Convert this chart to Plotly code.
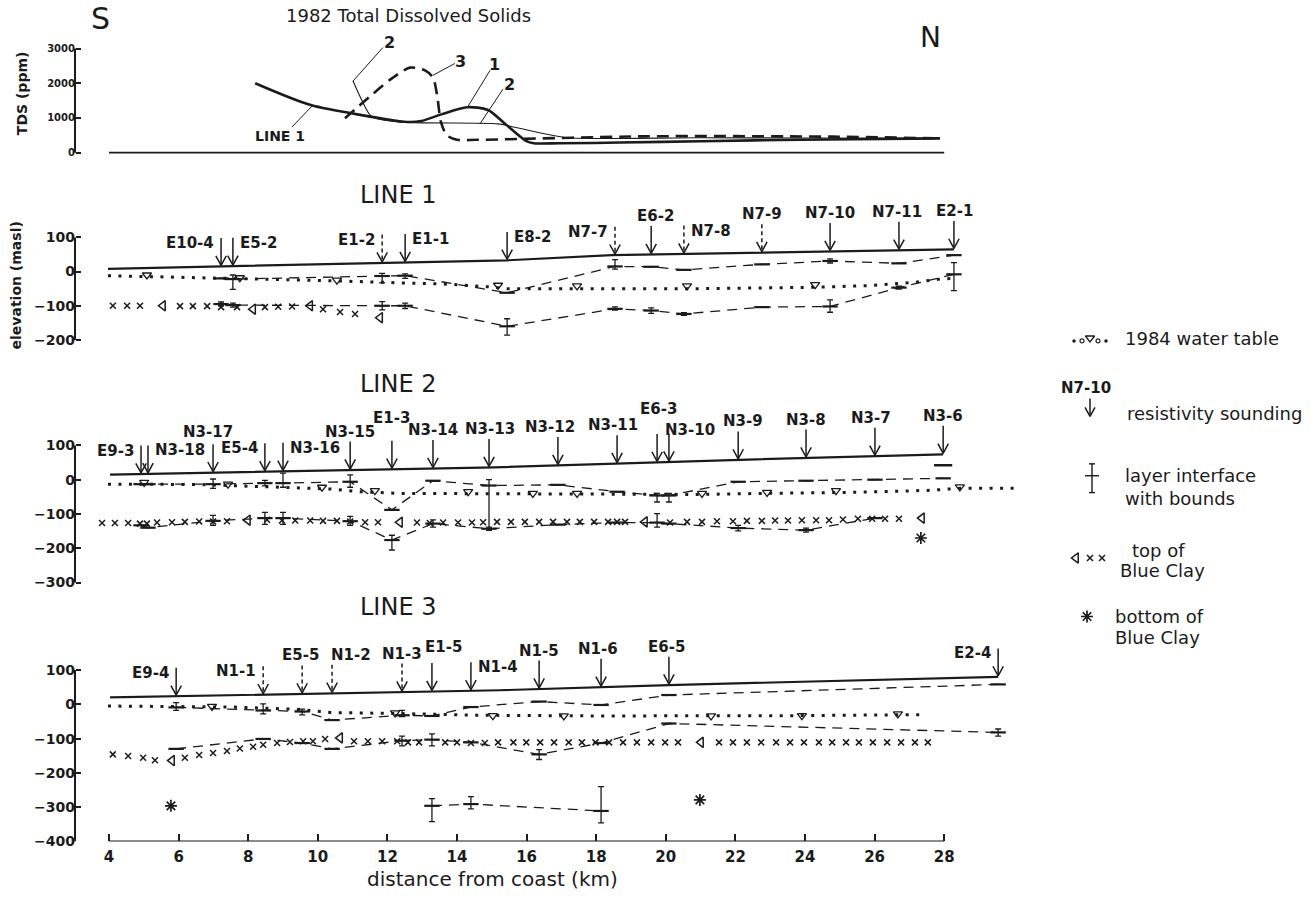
import numpy as np
import plotly.graph_objects as go

W, H = 1315, 902
INK = "#1b1b1b"
FONT = "DejaVu Sans"

# ------------------------------------------------------------------ ticks
X_TICKS = [4, 6, 8, 10, 12, 14, 16, 18, 20, 22, 24, 26, 28]
TDS_TICKS = [0, 1000, 2000, 3000]
L1_TICKS = [100, 0, -100, -200]
L2_TICKS = [100, 0, -100, -200, -300]
L3_TICKS = [100, 0, -100, -200, -300, -400]

# ------------------------------------------------------------------ TDS (ppm) 1982
TDS1_KM = [8.20, 9.80, 11.39, 12.48, 12.97, 13.57, 14.29, 14.89, 15.38, 15.98, 16.21, 16.96, 18.68, 20.98, 23.86, 27.88]
TDS1 = [2000, 1370, 1060, 890, 910, 1110, 1310, 1230, 830, 340, 270, 270, 290, 330, 370, 410]
TDS2_KM = [11.01, 11.27, 11.56, 12.48, 15.18, 15.67, 16.73, 17.30, 20.98, 23.86, 27.88]
TDS2 = [2070, 1500, 1030, 880, 830, 730, 500, 420, 430, 420, 410]
TDS3_KM = [10.78, 12.13, 12.65, 13.08, 13.31, 13.43, 13.54, 13.71, 14.00, 14.60, 19.43, 24.80, 27.88]
TDS3 = [990, 2140, 2450, 2370, 2160, 1640, 880, 500, 370, 370, 470, 460, 410]

# ------------------------------------------------------------------ LINE 1
L1_GROUND_KM = [3.97, 15.44, 18.45, 24.72, 28.28]
L1_GROUND = [8, 33, 48, 59, 65]
L1_NAMES = ["E10-4", "E5-2", "E1-2", "E1-1", "E8-2", "N7-7", "E6-2", "N7-8", "N7-9", "N7-10", "N7-11", "E2-1"]
L1_KM = [7.22, 7.56, 11.85, 12.51, 15.44, 18.54, 19.58, 20.52, 22.76, 24.72, 26.70, 28.28]
L1_DASHED = [0, 0, 1, 0, 0, 1, 0, 1, 1, 0, 0, 0]
L1_UP = [-20, -22, -13, -12, -62, 15, 14, 5, 21, 31, 24, 48]
L1_UP_EP = [0, 12, 8, 5, 0, 20, 0, 0, 0, 6, 0, 0]
L1_UP_EM = [0, 30, 20, 8, 0, 8, 0, 0, 0, 6, 0, 0]
L1_LO = [-95, -98, -100, -100, -160, -109, -114, -124, -104, -102, -47, -8]
L1_LO_EP = [6, 6, 12, 8, 22, 6, 8, 4, 0, 19, 4, 34]
L1_LO_EM = [6, 6, 12, 8, 26, 4, 8, 4, 0, 17, 4, 48]
L1_WT_KM = [3.97, 7.56, 10.44, 12.36, 13.80, 14.95, 15.44, 20.98, 24.23, 25.87, 27.10, 27.88, 28.31]
L1_WT = [-12, -20, -27, -33, -37, -45, -50, -50, -46, -41, -32, -22, -20]
L1_TRI_KM = [5.09, 7.76, 10.55, 15.18, 17.45, 20.61, 24.29]
L1_TRI = [-10, -18, -25, -40, -42, -42, -38]
L1_CLAYX_KM = [4.11, 4.52, 4.89, 6.04, 6.41, 6.82, 7.22, 7.68, 8.48, 8.86, 9.26, 10.15, 10.64, 11.07]
L1_CLAYX = [-100, -100, -100, -101, -101, -101, -104, -104, -104, -103, -102, -110, -118, -124]
L1_CLAYT_KM = [5.55, 8.14, 9.78, 11.79]
L1_CLAYT = [-100, -110, -100, -135]

# ------------------------------------------------------------------ LINE 2
L2_GROUND_KM = [4.03, 15.09, 22.13, 27.97]
L2_GROUND = [15, 36, 58, 74]
L2_NAMES = ["E9-3", "N3-18", "N3-17", "E5-4", "N3-16", "N3-15", "E1-3", "N3-14", "N3-13",
            "N3-12", "N3-11", "E6-3", "N3-10", "N3-9", "N3-8", "N3-7", "N3-6"]
L2_KM = [4.92, 5.12, 6.99, 8.48, 9.00, 10.93, 12.13, 13.31, 14.92, 16.90, 18.60, 19.75, 20.09, 22.08, 24.03, 26.01, 27.97]
L2_DASHED = [0] * 17
L2_UP = [-13, -13, -13, -10, -10, -6, -88, -3, -17, -15, -35, -46, -46, -6, -3, 0, 4]
L2_UP_EP = [0, 0, 15, 8, 29, 20, 0, 0, 17, 0, 0, 6, 6, 0, 0, 0, 0]
L2_UP_EM = [0, 0, 12, 8, 12, 16, 0, 0, 130, 0, 0, 19, 19, 0, 0, 0, 0]
L2_LO_KM = [4.92, 5.12, 6.99, 8.48, 9.00, 10.93, 12.13, 13.31, 14.92, 16.90, 18.60, 19.75, 20.09, 22.08, 24.03, 26.01]
L2_LO = [-133, -140, -120, -112, -112, -121, -176, -128, -143, -131, -125, -125, -128, -141, -147, -112]
L2_LO_EP = [0, 0, 16, 17, 17, 14, 14, 11, 5, 0, 0, 26, 0, 8, 6, 0]
L2_LO_EM = [0, 0, 13, 18, 18, 12, 29, 10, 5, 0, 0, 13, 0, 8, 6, 0]
L2_EXTRA_KM = [27.97]
L2_EXTRA = [42]
L2_WT_KM = [3.97, 6.62, 8.34, 10.35, 11.21, 12.36, 15.24, 19.55, 20.98, 22.71, 25.29, 27.59, 28.45, 30.04]
L2_WT = [-13, -14, -20, -27, -35, -40, -41, -43, -43, -40, -37, -31, -25, -25]
L2_TRI_KM = [5.01, 7.42, 10.12, 11.64, 14.32, 16.18, 17.45, 21.04, 22.91, 24.89, 28.45]
L2_TRI = [-8, -13, -22, -32, -35, -40, -40, -40, -37, -32, -21]
L2_CLAYX_KM = [3.80, 4.17, 4.55, 4.89, 5.09, 5.38, 5.81, 6.18, 6.59, 6.99, 7.39,
               8.54, 8.97, 9.35, 9.78, 10.15, 10.55, 10.93, 11.36, 11.73,
               12.85, 13.22, 13.60, 14.03, 14.43, 14.75,
               15.15, 15.55, 15.95, 16.36, 16.76, 17.16, 17.53, 17.94, 18.34, 18.60, 18.83,
               20.12, 20.61, 21.04, 21.47, 21.93, 22.33, 22.76, 23.14, 23.51, 23.91, 24.32,
               24.69, 25.09, 25.52, 25.93, 26.30, 26.70]
L2_CLAYX = [-126, -126, -126, -128, -128, -125, -124, -123, -122, -122, -121,
            -117, -119, -119, -119, -120, -120, -122, -124, -124,
            -125, -126, -125, -125, -125, -124,
            -123, -123, -123, -123, -123, -123, -123, -123, -123, -123, -123,
            -125, -123, -123, -121, -121, -120, -120, -119, -119, -118, -118,
            -118, -116, -114, -114, -114, -114]
L2_CLAYT_KM = [7.99, 12.36, 19.40, 27.36]
L2_CLAYT = [-118, -124, -123, -112]
L2_STAR_KM = [27.33]
L2_STAR = [-170]

# ------------------------------------------------------------------ LINE 3
L3_GROUND_KM = [4.03, 15.24, 20.09, 29.55]
L3_GROUND = [20, 41, 56, 80]
L3_NAMES = ["E9-4", "N1-1", "E5-5", "N1-2", "N1-3", "E1-5", "N1-4", "N1-5", "N1-6", "E6-5", "E2-4"]
L3_KM = [5.93, 8.43, 9.55, 10.41, 12.42, 13.28, 14.40, 16.36, 18.14, 20.09, 29.55]
L3_DASHED = [0, 1, 1, 1, 1, 0, 0, 0, 0, 0, 0]
L3_UP = [-9, -18, -21, -46, -32, -34, -8, 8, -2, 27, 58]
L3_UP_EP = [14, 19, 7, 0, 14, 0, 0, 0, 0, 0, 0]
L3_UP_EM = [9, 10, 10, 0, 4, 0, 0, 0, 0, 0, 0]
L3_LO = [-130, -101, -113, -130, -106, -103, -111, -146, -113, -56, -82]
L3_LO_EP = [0, 0, 0, 0, 13, 17, 0, 14, 0, 0, 10]
L3_LO_EM = [0, 0, 0, 0, 15, 18, 0, 15, 0, 0, 11]
L3_DEEP_KM = [13.28, 14.40, 18.14]
L3_DEEP = [-296, -291, -311]
L3_DEEP_EP = [21, 22, 71]
L3_DEEP_EM = [46, 14, 35]
L3_WT_KM = [3.97, 7.56, 9.49, 10.35, 12.36, 14.66, 18.11, 23.86, 27.45]
L3_WT = [-5, -8, -15, -24, -27, -32, -34, -33, -30]
L3_TRI_KM = [6.96, 12.22, 15.03, 17.07, 21.30, 23.91, 26.67]
L3_TRI = [-6, -25, -33, -34, -34, -33, -28]
L3_CLAYX_KM = [4.11, 4.55, 4.98, 5.32, 6.18, 6.59, 6.99, 7.39, 7.76, 8.14, 8.43, 8.83, 9.20, 9.58,
               9.86, 10.21, 11.04, 11.44, 11.85, 12.28, 12.59, 12.91, 13.66, 14.00, 14.40, 14.80,
               15.18, 15.62, 15.99, 16.39, 16.79, 17.21, 17.59, 17.98, 18.37, 18.77, 19.17, 19.58,
               19.98, 20.35, 21.53, 21.93, 22.33, 22.74, 23.17, 23.57, 23.97, 24.40, 24.78, 25.18,
               25.55, 25.95, 26.36, 26.76, 27.16, 27.53]
L3_CLAYX = [-146, -151, -156, -163, -156, -148, -142, -136, -129, -124, -118, -113, -110, -108,
            -108, -101, -108, -108, -108, -108, -111, -111, -111, -111, -113, -113,
            -111, -111, -111, -111, -111, -111, -111, -111, -111, -111, -111, -111,
            -111, -111, -111, -111, -111, -111, -111, -111, -111, -111, -111, -111,
            -111, -111, -111, -111, -111, -111]
L3_CLAYT_KM = [5.81, 10.64, 21.01]
L3_CLAYT = [-164, -98, -111]
L3_STAR_KM = [5.78, 20.98]
L3_STAR = [-296, -279]

# ------------------------------------------------------------------ layout / style constants
PX_PER_KM = 34.8          # horizontal scale
KM4_PX = 109              # pixel column of the 4 km tick
XDOM_PX = (60, 1050)
YAX_PX = 75
PANEL = {                 # top px, bottom px, px of value 0, px per unit
    "tds": (30, 160, 154.0, 0.035),
    "l1": (212, 352, 274.0, 0.345),
    "l2": (410, 600, 484.0, 0.346),
    "l3": (632, 849, 710.6, 0.346),
}
AX = {"l3": ("x", "y"), "l2": ("x2", "y2"), "l1": ("x3", "y3"), "tds": ("x4", "y4")}
TICKS = {"tds": TDS_TICKS, "l1": L1_TICKS, "l2": L2_TICKS, "l3": L3_TICKS}

ARROW_LEN = 80            # elevation units
HEAD_W = 0.15             # km
HEAD_H = 28               # elevation units
DASH_IF = "10px,7px"
LBL_SIZE = 15
# label placement: (side, x shift px, extra lift px)
L1_LBL = [("L", 0, 0), ("R", 0, 0), ("L", 0, 0), ("R", 0, 0), ("R", 0, 0), ("L", 0, 0),
          ("T", 4, 0), ("R", 0, 0), ("T", 0, 0), ("T", 0, 0), ("T", -2, 0), ("T", 1, 0)]
L2_LBL = [("L", 0, 0), ("R", 0, 0), ("T", -5, 2), ("L", 0, 0), ("R", 0, 0), ("T", 0, 0),
          ("T", 0, 13), ("T", 0, 0), ("T", 1, 0), ("T", -8, 0), ("T", -4, 0), ("T", 1, 15),
          ("T", 21, -6), ("T", 5, 0), ("T", 0, 0), ("T", -4, 0), ("T", 0, 0)]
L3_LBL = [("L", 0, 0), ("L", 0, 0), ("T", -2, 0), ("T", 19, 0), ("T", 0, 0), ("T", 12, 6),
          ("R", 0, 0), ("T", 0, 0), ("T", -3, 0), ("T", -2, 0), ("L", 0, 0)]

fig = go.Figure()
annotations = []
shapes = []


def add(tr, p):
    xa, ya = AX[p]
    tr.update(xaxis=xa, yaxis=ya, showlegend=False, hoverinfo="skip")
    fig.add_trace(tr)


def mk(symbol, size, lw):
    return dict(symbol=symbol, size=size, color=INK, line=dict(color=INK, width=lw))


def txt(text, x, y, xref, yref, size, bold=False, xanchor="center", yanchor="middle",
        xshift=0, yshift=0, angle=0):
    annotations.append(dict(
        text=text, x=x, y=y, xref=xref, yref=yref, showarrow=False, xanchor=xanchor,
        yanchor=yanchor, xshift=xshift, yshift=yshift, textangle=angle,
        font=dict(family=FONT, size=size, color=INK, weight="bold" if bold else "normal")))


def paper(px, py):
    return px / W, 1 - py / H


def ground(p, km, el):
    add(go.Scatter(x=km, y=el, mode="lines", line=dict(color=INK, width=2.2)), p)


def soundings(p, km, dashed, names, lbl, g_km, g_el):
    xa, ya = AX[p]
    tips = np.interp(km, g_km, g_el) + 3
    tops = tips + ARROW_LEN
    sx, sy, dx_, dy_, hx, hy = [], [], [], [], [], []
    for k, t, tp, d in zip(km, tips, tops, dashed):
        if d:
            dx_ += [k, k, None]; dy_ += [tp, t + 4, None]
        else:
            sx += [k, k, None]; sy += [tp, t, None]
        hx += [k - HEAD_W, k, k + HEAD_W, None]
        hy += [t + HEAD_H, t, t + HEAD_H, None]
    add(go.Scatter(x=sx, y=sy, mode="lines", line=dict(color=INK, width=1.5)), p)
    if dx_:
        add(go.Scatter(x=dx_, y=dy_, mode="lines", line=dict(color=INK, width=1.5, dash="4px,3px")), p)
    add(go.Scatter(x=hx, y=hy, mode="lines", line=dict(color=INK, width=1.5)), p)
    for k, tp, name, (side, dxs, lift) in zip(km, tops, names, lbl):
        if side == "L":
            txt(name, k, tp, xa, ya, LBL_SIZE, True, "right", "middle", -5 + dxs, -5 + lift)
        elif side == "R":
            txt(name, k, tp, xa, ya, LBL_SIZE, True, "left", "middle", 5 + dxs, -5 + lift)
        else:
            txt(name, k, tp, xa, ya, LBL_SIZE, True, "center", "middle", dxs, 10 + lift)


def interface(p, km, v, ep, em):
    add(go.Scatter(
        x=km, y=v, mode="lines+markers", cliponaxis=False,
        line=dict(color=INK, width=1.3, dash=DASH_IF),
        marker=mk("line-ew-open", 11, 2.2),
        error_y=dict(type="data", symmetric=False, array=ep, arrayminus=em,
                     color=INK, thickness=1.3, width=3)), p)


def water_table(p, km, el, tkm, tel):
    add(go.Scatter(x=km, y=el, mode="lines", line=dict(color=INK, width=3, dash="3px,7.5px")), p)
    add(go.Scatter(x=tkm, y=tel, mode="markers", cliponaxis=False,
                   marker=mk("triangle-down-open", 8, 1.3)), p)


def clay(p, xkm, xel, tkm, tel):
    add(go.Scatter(x=xkm, y=xel, mode="markers", cliponaxis=False, marker=mk("x-thin-open", 6, 1.5)), p)
    add(go.Scatter(x=tkm, y=tel, mode="markers", cliponaxis=False, marker=mk("triangle-left-open", 9, 1.5)), p)


def stars(p, km, el):
    add(go.Scatter(x=km, y=el, mode="markers", cliponaxis=False, marker=mk("asterisk-open", 10, 1.7)), p)


# ------------------------------------------------------------------ TDS panel
add(go.Scatter(x=TDS1_KM, y=TDS1, mode="lines", line=dict(color=INK, width=2.6, shape="spline", smoothing=0.8)), "tds")
add(go.Scatter(x=TDS2_KM, y=TDS2, mode="lines", line=dict(color=INK, width=1.1, shape="spline", smoothing=0.8)), "tds")
add(go.Scatter(x=TDS3_KM, y=TDS3, mode="lines",
               line=dict(color=INK, width=2.6, shape="spline", smoothing=0.8, dash="12px,7px")), "tds")
shapes.append(dict(type="line", xref="x4", yref="y4", x0=X_TICKS[0], x1=X_TICKS[-1], y0=0, y1=0,
                   line=dict(color=INK, width=1.6)))
TDS_LABELS = [("2", 12.07, 3170, 11.87, 3030, 11.01, 2060),
              ("3", 14.09, 2630, 13.94, 2570, 13.31, 2230),
              ("1", 15.09, 2540, 14.95, 2370, 14.32, 1340),
              ("2", 15.52, 1970, 15.32, 1830, 14.66, 830),
              ("LINE 1", 8.91, 490, 9.26, 740, 9.86, 1370)]
for t, lx, ly, ax0, ay0, ax1, ay1 in TDS_LABELS:
    txt(t, lx, ly, "x4", "y4", 16 if len(t) == 1 else 14, True)
    shapes.append(dict(type="line", xref="x4", yref="y4", x0=ax0, y0=ay0, x1=ax1, y1=ay1,
                       line=dict(color=INK, width=1)))

# ------------------------------------------------------------------ LINE 1
ground("l1", L1_GROUND_KM, L1_GROUND)
water_table("l1", L1_WT_KM, L1_WT, L1_TRI_KM, L1_TRI)
clay("l1", L1_CLAYX_KM, L1_CLAYX, L1_CLAYT_KM, L1_CLAYT)
interface("l1", L1_KM, L1_UP, L1_UP_EP, L1_UP_EM)
interface("l1", L1_KM, L1_LO, L1_LO_EP, L1_LO_EM)
soundings("l1", L1_KM, L1_DASHED, L1_NAMES, L1_LBL, L1_GROUND_KM, L1_GROUND)

# ------------------------------------------------------------------ LINE 2
ground("l2", L2_GROUND_KM, L2_GROUND)
water_table("l2", L2_WT_KM, L2_WT, L2_TRI_KM, L2_TRI)
clay("l2", L2_CLAYX_KM, L2_CLAYX, L2_CLAYT_KM, L2_CLAYT)
interface("l2", L2_KM, L2_UP, L2_UP_EP, L2_UP_EM)
interface("l2", L2_LO_KM, L2_LO, L2_LO_EP, L2_LO_EM)
add(go.Scatter(x=L2_EXTRA_KM, y=L2_EXTRA, mode="markers", marker=mk("line-ew-open", 13, 2.6)), "l2")
stars("l2", L2_STAR_KM, L2_STAR)
soundings("l2", L2_KM, L2_DASHED, L2_NAMES, L2_LBL, L2_GROUND_KM, L2_GROUND)

# ------------------------------------------------------------------ LINE 3
ground("l3", L3_GROUND_KM, L3_GROUND)
water_table("l3", L3_WT_KM, L3_WT, L3_TRI_KM, L3_TRI)
clay("l3", L3_CLAYX_KM, L3_CLAYX, L3_CLAYT_KM, L3_CLAYT)
interface("l3", L3_KM, L3_UP, L3_UP_EP, L3_UP_EM)
interface("l3", L3_KM, L3_LO, L3_LO_EP, L3_LO_EM)
interface("l3", L3_DEEP_KM, L3_DEEP, L3_DEEP_EP, L3_DEEP_EM)
stars("l3", L3_STAR_KM, L3_STAR)
soundings("l3", L3_KM, L3_DASHED, L3_NAMES, L3_LBL, L3_GROUND_KM, L3_GROUND)

# bottom x-axis line
shapes.append(dict(type="line", xref="x", yref="y", x0=X_TICKS[0], x1=X_TICKS[-1],
                   y0=L3_TICKS[-1], y1=L3_TICKS[-1], line=dict(color=INK, width=2)))

# ------------------------------------------------------------------ axes
layout = dict(width=W, height=H, margin=dict(l=0, r=0, t=0, b=0),
              paper_bgcolor="white", plot_bgcolor="rgba(0,0,0,0)", showlegend=False)
xr = [4 + (XDOM_PX[0] - KM4_PX) / PX_PER_KM, 4 + (XDOM_PX[1] - KM4_PX) / PX_PER_KM]
xdom = [XDOM_PX[0] / W, XDOM_PX[1] / W]
for p, (xa, ya) in AX.items():
    top, bot, zpx, ppu = PANEL[p]
    xk = "xaxis" + xa[1:]
    yk = "yaxis" + ya[1:]
    xd = dict(domain=xdom, range=xr, anchor=ya, showgrid=False, zeroline=False, showline=False)
    if p == "l3":
        xd.update(tickvals=X_TICKS, ticks="inside", ticklen=7, tickwidth=1.6, tickcolor=INK,
                  ticklabelstandoff=5,
                  tickfont=dict(family=FONT, size=15, color=INK, weight="bold"))
    else:
        xd.update(visible=False)
    layout[xk] = xd
    layout[yk] = dict(domain=[1 - bot / H, 1 - top / H], range=[(zpx - bot) / ppu, (zpx - top) / ppu],
                      anchor="free", position=YAX_PX / W, tickvals=TICKS[p], ticks="inside",
                      ticklen=5, tickwidth=1.6, tickcolor=INK, showgrid=False, zeroline=False,
                      showline=False,
                      tickfont=dict(family=FONT, size=10 if p == "tds" else 14, color=INK, weight="bold"))
    shapes.append(dict(type="line", xref="paper", yref=ya, x0=YAX_PX / W, x1=YAX_PX / W,
                       y0=min(TICKS[p]), y1=max(TICKS[p]), line=dict(color=INK, width=2)))

# overlay in pixel space for the key symbols
layout["xaxis5"] = dict(domain=[0, 1], range=[0, W], anchor="y5", visible=False)
layout["yaxis5"] = dict(domain=[0, 1], range=[H, 0], anchor="x5", visible=False)


def key(tr):
    tr.update(xaxis="x5", yaxis="y5", showlegend=False, hoverinfo="skip", cliponaxis=False)
    fig.add_trace(tr)


key(go.Scatter(x=[1074, 1106], y=[344, 344], mode="markers", marker=mk("circle", 3.5, 0)))
key(go.Scatter(x=[1082, 1098], y=[344, 344], mode="markers", marker=mk("circle-open", 4, 1.2)))
key(go.Scatter(x=[1090], y=[341], mode="markers", marker=mk("triangle-down-open", 8, 1.3)))
key(go.Scatter(x=[1090, 1090, None, 1085, 1090, 1095], y=[402, 420, None, 411, 420, 411], mode="lines",
               line=dict(color=INK, width=1.5)))
key(go.Scatter(x=[1092, 1092, None, 1089, 1095, None, 1089, 1095, None, 1085, 1099],
               y=[468, 497, None, 468, 468, None, 497, 497, None, 480, 480], mode="lines",
               line=dict(color=INK, width=1.4)))
key(go.Scatter(x=[1076], y=[563], mode="markers", marker=mk("triangle-left-open", 9, 1.5)))
key(go.Scatter(x=[1090, 1102], y=[563, 563], mode="markers", marker=mk("x-thin-open", 6, 1.5)))
key(go.Scatter(x=[1087], y=[622], mode="markers", marker=mk("asterisk-open", 10, 1.7)))

KEY_TEXT = [("1984 water table", 1123, 342), ("N7-10", 1059, 391), ("resistivity sounding", 1125, 417),
            ("layer interface", 1123, 480), ("with bounds", 1123, 503), ("top of", 1130, 555),
            ("Blue Clay", 1118, 576), ("bottom of", 1113, 622), ("Blue Clay", 1113, 643)]
for t, px, py in KEY_TEXT:
    x, y = paper(px, py)
    txt(t, x, y, "paper", "paper", 15 if t == "N7-10" else 18, t == "N7-10", "left")

# ------------------------------------------------------------------ titles
for t, px, py, size in [("S", 101, 19, 30), ("N", 930, 38, 28),
                        ("1982 Total Dissolved Solids", 408, 16, 18),
                        ("LINE 1", 398, 197, 24), ("LINE 2", 398, 387, 24), ("LINE 3", 398, 612, 24),
                        ("distance from coast (km)", 492, 887, 20)]:
    x, y = paper(px, py)
    txt(t, x, y, "paper", "paper", size)
x, y = paper(16, 288)
txt("elevation (masl)", x, y, "paper", "paper", 14, True, angle=-90)
x, y = paper(22, 94)
txt("TDS (ppm)", x, y, "paper", "paper", 14, True, angle=-90)

layout["annotations"] = annotations
layout["shapes"] = shapes
fig.update_layout(**layout)
fig.write_html("out.html")
